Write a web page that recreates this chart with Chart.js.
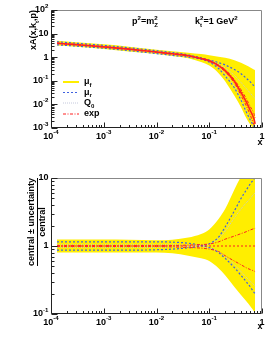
<!DOCTYPE html>
<html>
<head>
<meta charset="utf-8">
<script src="https://cdn.jsdelivr.net/npm/chart.js@4.4.1/dist/chart.umd.min.js"></script>
<style>
  html, body { margin: 0; padding: 0; background: #fff; }
  #wrap { position: relative; width: 277px; height: 338px; overflow: hidden; }
  canvas { position: absolute; left: 0; }
  #top { top: 0; }
  #bot { top: 170px; }
</style>
</head>
<body>
<div id="wrap">
  <canvas id="top" width="277" height="170"></canvas>
  <canvas id="bot" width="277" height="168"></canvas>
</div>
<script>
// --- data ---
const xs = [1.3e-4, 3e-4, 1e-3, 3e-3, 1e-2, 2e-2, 4e-2, 7e-2, 0.1, 0.15, 0.2, 0.3, 0.4, 0.5, 0.6, 0.7, 0.74];

// upper panel: xA(x,kt,p)
const central = [3.9, 3.4, 2.75, 2.2, 1.65, 1.4, 1.15, 0.88, 0.7, 0.44, 0.27, 0.095, 0.032, 0.013, 0.0055, 0.0025, 0.0015];
const muFUp = [4.95, 4.3, 3.5, 2.8, 2.05, 1.8, 1.55, 1.35, 1.2, 1.05, 0.95, 0.75, 0.58, 0.46, 0.37, 0.3, 0.28];
const muFLo = [3.1, 2.75, 2.2, 1.75, 1.35, 1.12, 0.9, 0.62, 0.44, 0.21, 0.095, 0.023, 0.0075, 0.0027, 0.0014, 0.001, 0.001];
const muRUp = [4.5, 3.9, 3.15, 2.5, 1.88, 1.58, 1.25, 0.93, 0.76, 0.59, 0.47, 0.3, 0.2, 0.13, 0.09, 0.062, 0.055];
const muRLo = [3.35, 2.95, 2.4, 1.9, 1.42, 1.2, 1.0, 0.82, 0.62, 0.33, 0.16, 0.05, 0.015, 0.005, 0.0022, 0.0012, 0.001];
const q0Up = [4.1, 3.55, 2.88, 2.3, 1.72, 1.46, 1.2, 0.9, 0.73, 0.5, 0.35, 0.17, 0.085, 0.048, 0.03, 0.02, 0.018];
const q0Lo = [3.7, 3.25, 2.62, 2.1, 1.58, 1.34, 1.1, 0.84, 0.66, 0.38, 0.2, 0.055, 0.016, 0.0055, 0.0022, 0.0012, 0.001];
const expUp = [4.0, 3.47, 2.8, 2.24, 1.68, 1.43, 1.18, 0.9, 0.73, 0.47, 0.3, 0.11, 0.042, 0.018, 0.008, 0.0042, 0.0027];
const expLo = [3.82, 3.33, 2.7, 2.16, 1.62, 1.37, 1.12, 0.86, 0.67, 0.41, 0.24, 0.08, 0.024, 0.009, 0.0035, 0.0014, 0.001];

// lower panel: (central ± uncertainty) / central
const rBandUp = [1.25, 1.25, 1.25, 1.24, 1.22, 1.24, 1.33, 1.5, 1.75, 2.5, 3.5, 6.8, 10.5, 14, 16, 17, 17];
const rBandLo = [0.8, 0.8, 0.8, 0.8, 0.8, 0.78, 0.72, 0.66, 0.6, 0.47, 0.37, 0.25, 0.19, 0.155, 0.13, 0.11, 0.1];
const rMuRA = [0.87, 0.87, 0.87, 0.87, 0.88, 0.9, 0.94, 1.0, 1.08, 1.35, 1.9, 3.3, 5.0, 6.6, 8.2, 9.6, 10.3];
const rMuRB = [1.15, 1.15, 1.15, 1.15, 1.15, 1.14, 1.1, 1.02, 0.95, 0.8, 0.66, 0.48, 0.37, 0.3, 0.25, 0.21, 0.2];
const rQ0A = [0.96, 0.96, 0.96, 0.96, 0.96, 0.97, 0.98, 1.02, 1.07, 1.3, 1.65, 2.6, 3.5, 4.3, 5.0, 5.8, 6.0];
const rQ0B = [1.04, 1.04, 1.04, 1.04, 1.04, 1.04, 1.02, 0.99, 0.94, 0.82, 0.71, 0.53, 0.42, 0.35, 0.3, 0.27, 0.26];
const rExpA = [1.02, 1.02, 1.02, 1.02, 1.02, 1.02, 1.03, 1.05, 1.07, 1.15, 1.26, 1.4, 1.52, 1.62, 1.72, 1.8, 1.82];
const rExpB = [0.98, 0.98, 0.98, 0.98, 0.98, 0.97, 0.95, 0.93, 0.9, 0.83, 0.72, 0.6, 0.53, 0.48, 0.45, 0.43, 0.42];
const rCentral = xs.map(() => 1);

const xDecades = [-4, -3, -2, -1, 0];
const yTopDecades = [-3, -2, -1, 0, 1, 2];
const yBotDecades = [-1, 0, 1];

// --- styles ---
const YELLOW = "#ffee00";
const BLUE = "#3f62e0";
const GRAY = "#c4c8dc";
const RED = "#ff2020";
const FONT = s => `bold ${s}px "Liberation Sans", Arial, sans-serif`;

const pts = ys => xs.map((x, i) => ({ x, y: ys[i] }));

function line(ys, color, dash, width, order) {
  return {
    data: pts(ys), borderColor: color, borderDash: dash, borderWidth: width,
    pointRadius: 0, fill: false, cubicInterpolationMode: "monotone", order,
  };
}

function band(up, lo) {
  return [
    { data: pts(up), borderWidth: 0, pointRadius: 0, fill: "+1", backgroundColor: YELLOW,
      cubicInterpolationMode: "monotone", order: 20 },
    { data: pts(lo), borderWidth: 0, pointRadius: 0, fill: false,
      cubicInterpolationMode: "monotone", order: 21 },
  ];
}

// text with sub/superscripts: [text, mode, text2]; mode 1 sup, -1 sub, 2 sup+sub stacked
function rich(ctx, segs, x, y, align, size) {
  const small = size * 0.68;
  const segW = s => {
    if (!s[1]) { ctx.font = FONT(size); return ctx.measureText(s[0]).width; }
    ctx.font = FONT(small);
    return s[1] === 2 ? Math.max(ctx.measureText(s[0]).width, ctx.measureText(s[2]).width)
                      : ctx.measureText(s[0]).width;
  };
  const w = segs.reduce((a, s) => a + segW(s), 0);
  let cx = align === "right" ? x - w : align === "center" ? x - w / 2 : x;
  ctx.textAlign = "left";
  ctx.textBaseline = "middle";
  ctx.fillStyle = "#000";
  for (const s of segs) {
    const sw = segW(s);
    if (!s[1]) { ctx.font = FONT(size); ctx.fillText(s[0], cx, y); }
    else {
      ctx.font = FONT(small);
      if (s[1] === 1 || s[1] === 2) ctx.fillText(s[0], cx, y - size * 0.42);
      if (s[1] === -1) ctx.fillText(s[0], cx, y + size * 0.32);
      if (s[1] === 2) ctx.fillText(s[2], cx, y + size * 0.32);
    }
    cx += sw;
  }
  return w;
}

const powLabel = n => n === 0 ? [["1", 0]] : n === 1 ? [["10", 0]] : [["10", 0], [String(n), 1]];

// frame, inward log ticks and decade labels, ROOT style
function drawAxes(ctx, chart, yDec, xTitleY) {
  const a = chart.chartArea, sx = chart.scales.x, sy = chart.scales.y;
  const L = Math.round(a.left) + 0.5, R = Math.round(a.right) - 0.5;
  const T = Math.round(a.top) + 0.5, B = Math.round(a.bottom) - 0.5;
  ctx.save();
  ctx.lineWidth = 1;
  ctx.strokeStyle = "#888";
  ctx.beginPath();
  ctx.moveTo(L, T); ctx.lineTo(R, T); ctx.lineTo(R, B);
  ctx.stroke();
  ctx.strokeStyle = "#222";
  ctx.beginPath();
  ctx.moveTo(L, T); ctx.lineTo(L, B); ctx.lineTo(R, B);
  for (const n of xDecades) {
    for (let k = 1; k <= 9; k++) {
      const v = k * Math.pow(10, n);
      if (v > sx.max * 1.0001) break;
      const p = Math.round(sx.getPixelForValue(v)) + 0.5;
      ctx.moveTo(p, B); ctx.lineTo(p, B - (k === 1 ? 5 : 2.5));
    }
  }
  for (const n of yDec) {
    for (let k = 1; k <= 9; k++) {
      const v = k * Math.pow(10, n);
      if (v > sy.max * 1.0001) break;
      const p = Math.round(sy.getPixelForValue(v)) + 0.5;
      ctx.moveTo(L, p); ctx.lineTo(L + (k === 1 ? 6 : 3), p);
    }
  }
  ctx.stroke();
  for (const n of xDecades) rich(ctx, powLabel(n), sx.getPixelForValue(Math.pow(10, n)), B + 9, "center", 9);
  for (const n of yDec) rich(ctx, powLabel(n), L - 3, sy.getPixelForValue(Math.pow(10, n)), "right", 9);
  rich(ctx, [["x", 0]], R + 1, xTitleY, "right", 9);
  ctx.restore();
}

function makeChart(id, datasets, ymin, ymax, padTop, xHeight, draw) {
  return new Chart(document.getElementById(id), {
    type: "line",
    data: { datasets },
    options: {
      responsive: false,
      animation: false,
      devicePixelRatio: 1,
      layout: { padding: { left: 0, right: 15, top: padTop, bottom: 0 } },
      plugins: { legend: { display: false }, tooltip: { enabled: false } },
      scales: {
        x: { type: "logarithmic", min: 1e-4, max: 1, ticks: { display: false },
             grid: { display: false }, border: { display: false },
             afterFit: s => { s.height = xHeight; } },
        y: { type: "logarithmic", min: ymin, max: ymax, ticks: { display: false },
             grid: { display: false }, border: { display: false },
             afterFit: s => { s.width = 51; } },
      },
    },
    plugins: [{ id: "root", afterDraw: chart => draw(chart.ctx, chart) }],
  });
}

// --- upper panel ---
const legendRows = [
  { y: 82, segs: [["μ", 0], ["f", -1]], color: YELLOW, dash: [], width: 2 },
  { y: 92.5, segs: [["μ", 0], ["r", -1]], color: BLUE, dash: [2, 2], width: 1 },
  { y: 103, segs: [["Q", 0], ["0", -1]], color: GRAY, dash: [1, 1], width: 1 },
  { y: 114, segs: [["exp", 0]], color: RED, dash: [3, 1.5, 1, 1.5], width: 1 },
];

makeChart("top", [
  line(central, RED, [], 1.6, 0),
  line(expUp, RED, [3, 1.5, 1, 1.5], 1, 1),
  line(expLo, RED, [3, 1.5, 1, 1.5], 1, 1),
  line(muRUp, BLUE, [2, 2], 1.2, 2),
  line(muRLo, BLUE, [2, 2], 1.2, 2),
  line(q0Up, GRAY, [1, 1], 1, 3),
  line(q0Lo, GRAY, [1, 1], 1, 3),
  ...band(muFUp, muFLo),
], 1e-3, 100, 10, 42, (ctx, chart) => {
  drawAxes(ctx, chart, yTopDecades, 143);
  ctx.save();
  for (const r of legendRows) {
    ctx.strokeStyle = r.color; ctx.lineWidth = r.width; ctx.setLineDash(r.dash);
    ctx.beginPath(); ctx.moveTo(63, r.y); ctx.lineTo(79, r.y); ctx.stroke();
    rich(ctx, r.segs, 84, r.y, "left", 9);
  }
  ctx.setLineDash([]);
  rich(ctx, [["p", 0], ["2", 1], ["=m", 0], ["2", 2, "Z"]], 132, 22, "left", 9);
  rich(ctx, [["k", 0], ["2", 2, "t"], ["=1 GeV", 0], ["2", 1]], 195, 22, "left", 9);
  // y title
  ctx.translate(34, 10);
  ctx.rotate(-Math.PI / 2);
  rich(ctx, [["xA(x,k", 0], ["t", -1], [",p)", 0]], 0, 0, "right", 9);
  ctx.restore();
});

// --- lower panel ---
makeChart("bot", [
  line(rCentral, RED, [2, 2], 1.2, 0),
  line(rExpA, RED, [3, 1.5, 1, 1.5], 1, 1),
  line(rExpB, RED, [3, 1.5, 1, 1.5], 1, 1),
  line(rMuRA, BLUE, [2, 2], 1.2, 2),
  line(rMuRB, BLUE, [2, 2], 1.2, 2),
  line(rQ0A, GRAY, [1, 1], 1, 3),
  line(rQ0B, GRAY, [1, 1], 1, 3),
  ...band(rBandUp, rBandLo),
], 0.1, 10, 8, 24, (ctx, chart) => {
  drawAxes(ctx, chart, yBotDecades, 157);
  ctx.save();
  ctx.translate(37.5, 8);
  ctx.rotate(-Math.PI / 2);
  ctx.font = FONT(9);
  const num = "central ± uncertainty";
  const w = ctx.measureText(num).width;
  rich(ctx, [[num, 0]], -w / 2, -5.5, "center", 9);
  rich(ctx, [["central", 0]], -w / 2, 5.5, "center", 9);
  ctx.strokeStyle = "#000"; ctx.lineWidth = 1;
  ctx.beginPath(); ctx.moveTo(0, 0); ctx.lineTo(-w, 0); ctx.stroke();
  ctx.restore();
});
</script>
</body>
</html>
